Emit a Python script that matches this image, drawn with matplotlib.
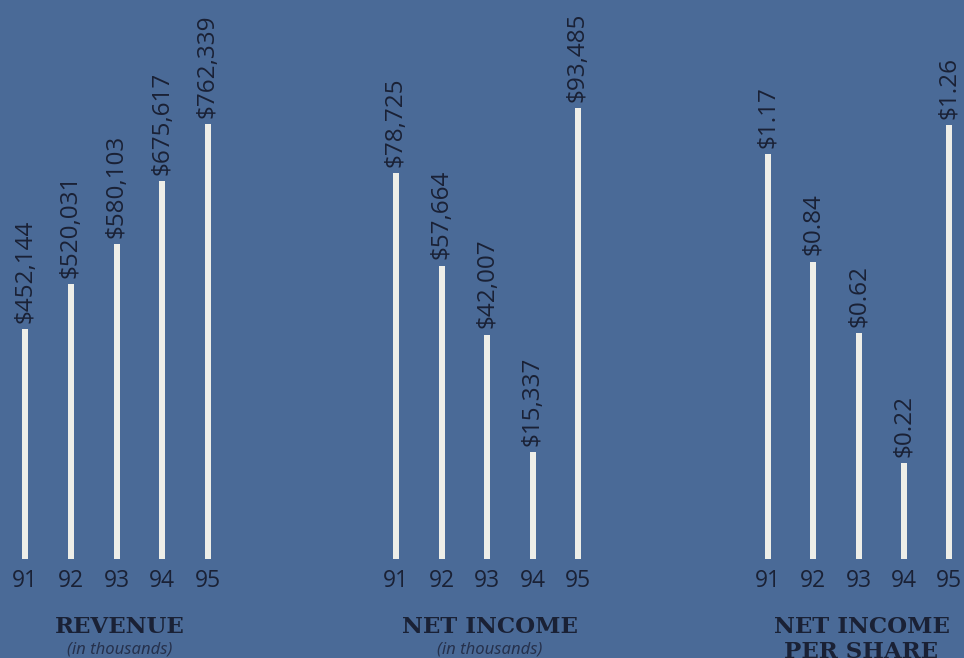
import matplotlib.pyplot as plt

W, H = 964, 658
BG = '#4a6a97'
BAR = '#eeeee8'
INK = '#1a2135'

years = ['91', '92', '93', '94', '95']
revenue = [452144, 520031, 580103, 675617, 762339]
net_income = [78725, 57664, 42007, 15337, 93485]
eps = [1.17, 0.84, 0.62, 0.22, 1.26]

titles = ['REVENUE', 'NET INCOME', 'NET INCOME\nPER SHARE']
subtitles = ['(in thousands)', '(in thousands)', '']


def px_axes(fig, left, top, width, height):
    # pixel box (from top-left) -> figure fraction
    return fig.add_axes([left / W, (H - top - height) / H, width / W, height / H])


fig = plt.figure(figsize=(W / 100, H / 100), dpi=100, facecolor=BG)

# first bar x, bar spacing, axis baseline value, pixels per unit
panels = [
    (revenue, lambda v: f'${v:,}', 25, 45.75, 104000, 0.000661),
    (net_income, lambda v: f'${v:,}', 396, 45.5, -9000, 0.0044),
    (eps, lambda v: f'${v:.2f}', 768, 45.25, -0.074, 325.3),
]

base_y = 559
ax_h = 540
for k, (vals, fmt, x0, dx, v0, s) in enumerate(panels):
    ax = px_axes(fig, x0 - dx / 2, base_y - ax_h, 5 * dx, ax_h)
    ax.set_facecolor('none')
    ax.set_xlim(-0.5, 4.5)
    ax.set_ylim(v0, v0 + ax_h / s)
    xs = range(len(vals))
    ax.bar(xs, [v - v0 for v in vals], bottom=v0, width=6 / dx, color=BAR)
    for i, v in zip(xs, vals):
        ax.annotate(fmt(v), (i, v), xytext=(0, 4.5), textcoords='offset points',
                    rotation=90, ha='center', va='bottom', fontsize=17.5,
                    family='Open Sans', color=INK)
    ax.set_xticks(list(xs))
    ax.set_xticklabels(years, fontsize=16.5, family='Open Sans', color=INK)
    ax.tick_params(axis='x', length=0, pad=7)
    ax.set_yticks([])
    for sp in ax.spines.values():
        sp.set_visible(False)

    # titles under each group
    cx = x0 + 2 * dx + 3
    fig.text(cx / W, 1 - 616 / H, titles[k], ha='center', va='top',
             fontsize=16.5, fontweight='bold', family='DejaVu Serif', color=INK,
             linespacing=1.15)
    if subtitles[k]:
        fig.text(cx / W, 1 - 650 / H, subtitles[k], ha='center', va='center',
                 fontsize=12, style='italic', family='Noto Sans', color='#26314c')

fig.savefig('out.png', dpi=100, facecolor=BG)
